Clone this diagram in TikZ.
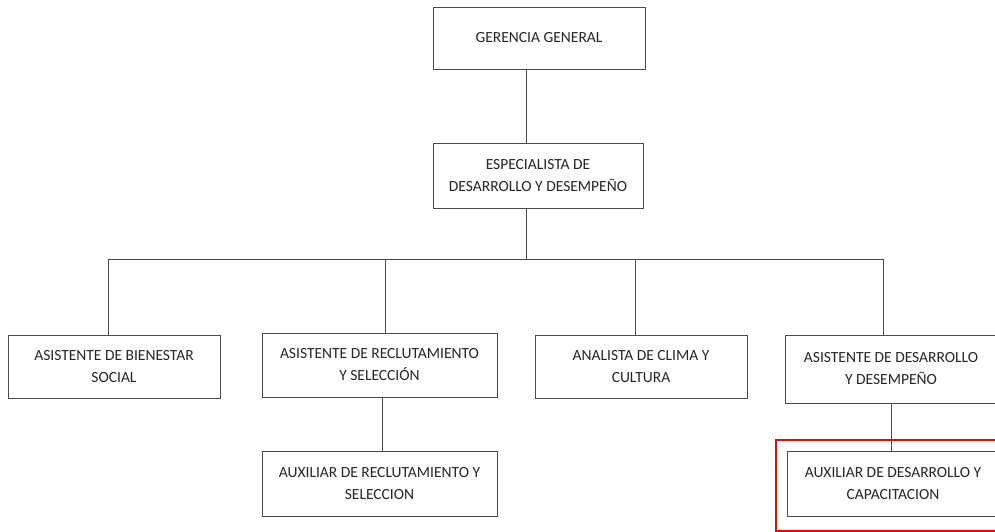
\documentclass[tikz,border=0pt]{standalone}
\usepackage{fontspec}
\setmainfont{Carlito}
\begin{document}
\begin{tikzpicture}[x=1pt,y=-1pt,
  orgbox/.style={draw=black!70, line width=0.9pt, fill=white, inner sep=0pt,
    align=center, font=\fontsize{15.5}{22}\selectfont, text=black!85},
  link/.style={draw=black!70, line width=0.9pt}]
\useasboundingbox (0,0) rectangle (995,531);
\begin{scope}
\clip (0,0) rectangle (995,531);
\node[orgbox, minimum width=212, minimum height=62] (gg) at (539,38) {GERENCIA GENERAL};
\node[orgbox, minimum width=210, minimum height=65] (esp) at (538,175.5) {ESPECIALISTA DE\\DESARROLLO Y DESEMPEÑO};
\node[orgbox, minimum width=212, minimum height=63] (b1) at (114,366.5) {ASISTENTE DE BIENESTAR\\SOCIAL};
\node[orgbox, minimum width=235, minimum height=64] (b2) at (379.5,365) {ASISTENTE DE RECLUTAMIENTO\\Y SELECCIÓN};
\node[orgbox, minimum width=212, minimum height=63] (b3) at (641,366.5) {ANALISTA DE CLIMA Y\\CULTURA};
\node[orgbox, minimum width=212, minimum height=68] (b4) at (891,369) {ASISTENTE DE DESARROLLO\\Y DESEMPEÑO};
\node[orgbox, minimum width=235, minimum height=65] (b5) at (379.5,483.5) {AUXILIAR DE RECLUTAMIENTO Y\\SELECCION};
\node[orgbox, minimum width=212, minimum height=65] (b6) at (893,483.5) {AUXILIAR DE DESARROLLO Y\\CAPACITACION};
\coordinate (trunk) at (526,259);
\coordinate (d1) at (108,259);
\coordinate (d2) at (385,259);
\coordinate (d3) at (635,259);
\coordinate (d4) at (883,259);
\coordinate (s5) at (382,0);
\coordinate (s6) at (891,0);
\draw[link] (gg.south -| trunk) -- (esp.north -| trunk);
\draw[link] (esp.south -| trunk) -- (trunk);
\draw[link] (b1.north -| d1) -- (d1) -- (d4) -- (b4.north -| d4);
\draw[link] (d2) -- (b2.north -| d2);
\draw[link] (d3) -- (b3.north -| d3);
\draw[link] (b2.south -| s5) -- (b5.north -| s5);
\draw[link] (b4.south -| s6) -- (b6.north -| s6);
\node[draw=red, line width=1.5pt, minimum width=240, minimum height=91, inner sep=0pt] (hl) at (896,485.5) {};
\end{scope}
\end{tikzpicture}
\end{document}
